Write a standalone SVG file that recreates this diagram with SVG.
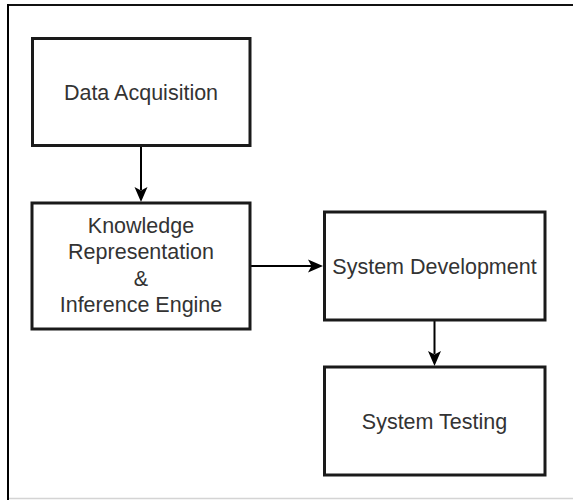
<svg xmlns="http://www.w3.org/2000/svg" width="573" height="500" viewBox="0 0 573 500">
  <style>
    .box { fill: #ffffff; stroke: #1a1a1a; stroke-width: 3; }
    .lbl { font-family: "Liberation Sans", Arial, sans-serif; font-size: 21.5px; fill: #333333; text-anchor: middle; }
    .edge { fill: none; stroke: #000000; stroke-width: 2; }
    .head { fill: #000000; stroke: none; }
  </style>

  <!-- page background and frame -->
  <rect x="0" y="0" width="573" height="500" fill="#ffffff"/>
  <line x1="8" y1="5" x2="573" y2="5" stroke="#111111" stroke-width="2"/>
  <line x1="8" y1="4" x2="8" y2="500" stroke="#000000" stroke-width="2"/>
  <line x1="9" y1="498.5" x2="573" y2="498.5" stroke="#d4d4d4" stroke-width="1.5"/>

  <!-- connectors -->
  <g id="connectors">
    <line class="edge" x1="141" y1="147" x2="141" y2="190"/>
    <path class="head" d="M141,202 L134.5,187 L141,190.5 L147.5,187 Z"/>

    <line class="edge" x1="251" y1="266" x2="312" y2="266"/>
    <path class="head" d="M323,266 L308,259.5 L311.5,266 L308,272.5 Z"/>

    <line class="edge" x1="434.5" y1="321" x2="434.5" y2="354"/>
    <path class="head" d="M434.5,366 L428,351 L434.5,354.5 L441,351 Z"/>
  </g>

  <g id="data-acquisition">
    <rect class="box" x="32.5" y="38.5" width="217.5" height="107"/>
    <text class="lbl" x="141" y="99.5">Data Acquisition</text>
  </g>

  <g id="knowledge-representation">
    <rect class="box" x="32" y="203" width="218" height="126"/>
    <text class="lbl" x="141" y="233">Knowledge</text>
    <text class="lbl" x="141" y="259">Representation</text>
    <text class="lbl" x="141" y="286">&amp;</text>
    <text class="lbl" x="141" y="312">Inference Engine</text>
  </g>

  <g id="system-development">
    <rect class="box" x="324.5" y="212" width="220.5" height="108"/>
    <text class="lbl" x="434.5" y="273.5">System Development</text>
  </g>

  <g id="system-testing">
    <rect class="box" x="324.5" y="367" width="220.5" height="108"/>
    <text class="lbl" x="434.5" y="428.5">System Testing</text>
  </g>
</svg>
